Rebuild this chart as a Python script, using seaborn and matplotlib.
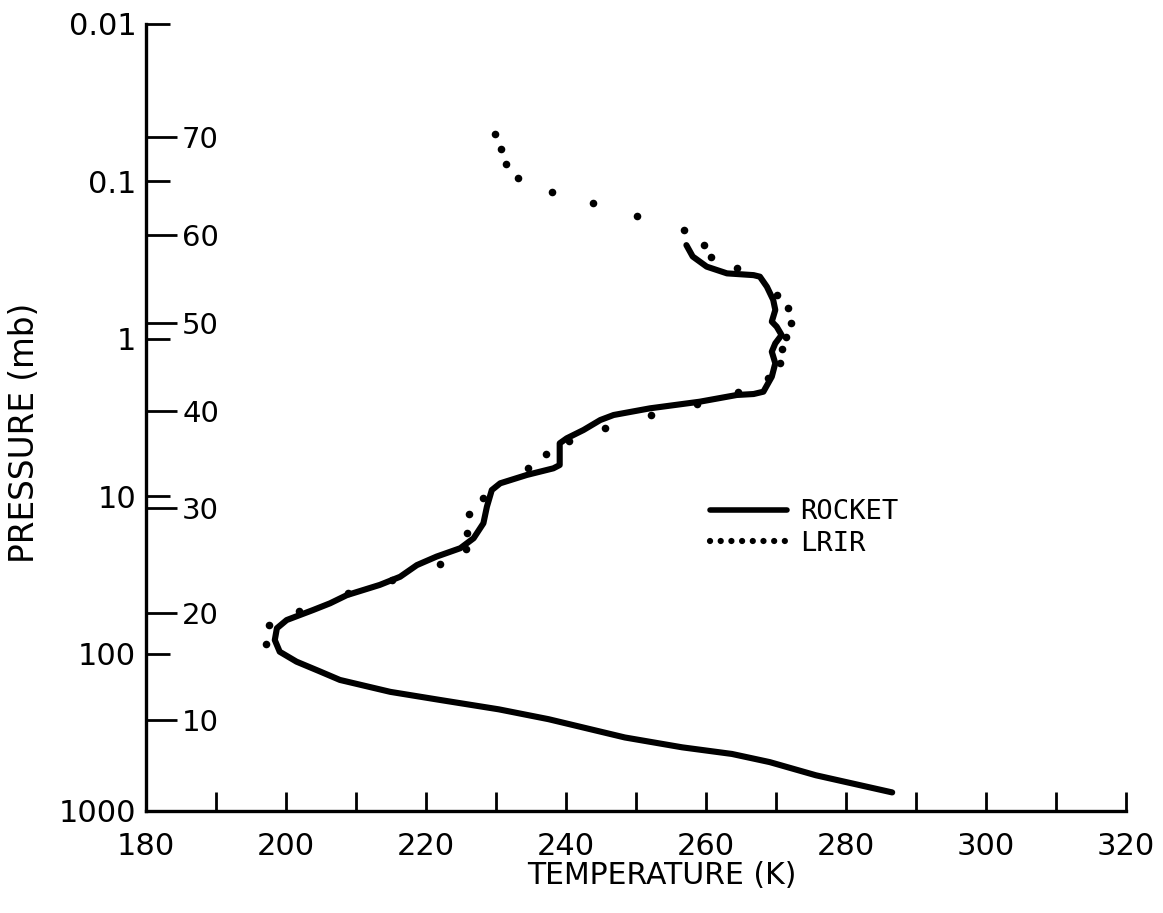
import numpy as np
import pandas as pd
import matplotlib
matplotlib.use("Agg")
import matplotlib.pyplot as plt
import seaborn as sns
from matplotlib.ticker import NullLocator
from matplotlib.lines import Line2D

# ---------------- data ----------------
rocket_temp = [257.2, 258.1, 260.1, 263.0, 266.8, 267.7, 268.7, 269.6, 269.9, 269.4,
               270.1, 270.8, 269.9, 269.4, 269.9, 269.4, 268.2, 266.8, 264.4, 259.1,
               252.0, 246.8, 244.9, 242.5, 240.1, 239.1, 239.1, 238.2, 234.4, 230.6,
               229.4, 228.7, 228.2, 226.8, 224.9, 221.5, 218.7, 216.3, 213.4, 208.7,
               206.3, 203.9, 200.1, 198.7, 198.4, 199.1, 201.5, 204.7, 207.7, 214.9,
               222.0, 230.4, 237.5, 248.4, 256.6, 263.7, 269.1, 275.7, 286.6]
rocket_pres = [0.254, 0.30, 0.348, 0.384, 0.394, 0.403, 0.467, 0.566, 0.656, 0.778,
               0.838, 0.946, 1.069, 1.208, 1.431, 1.741, 2.168, 2.243, 2.275, 2.51,
               2.765, 3.049, 3.281, 3.797, 4.289, 4.613, 6.34, 6.65, 7.33, 8.28,
               9.14, 11.67, 14.86, 18.5, 21.4, 24.2, 27.4, 32.5, 36.6, 42.5,
               47.9, 52.8, 61.2, 69.0, 82.0, 97.3, 112.5, 129.0, 147.0, 175.0,
               197.0, 226.0, 261.0, 341.0, 394.0, 434.0, 489.0, 593.0, 762.0]

lrir_temp = [229.9, 230.7, 231.4, 233.2, 238.0, 243.8, 250.2, 256.8, 259.7, 260.7,
             264.4, 270.2, 271.7, 272.1, 271.4, 270.9, 270.5, 268.9, 264.5, 258.7,
             252.1, 245.5, 240.4, 237.1, 234.6, 228.1, 226.2, 225.9, 225.7, 222.0,
             215.2, 208.9, 201.9, 197.6, 197.2]
lrir_pres = [0.050, 0.0625, 0.0774, 0.0946, 0.116, 0.138, 0.166, 0.204, 0.252, 0.303,
             0.356, 0.527, 0.640, 0.791, 0.971, 1.166, 1.431, 1.782, 2.168, 2.606,
             3.049, 3.67, 4.46, 5.42, 6.59, 10.2, 13.0, 17.1, 21.7, 27.1,
             34.1, 41.4, 53.4, 65.8, 87.3]

temp_ticks = [180, 200, 220, 240, 260, 280, 300, 320]
temp_minor = [190, 210, 230, 250, 270, 290, 310]
pres_ticks = [0.01, 0.1, 1, 10, 100, 1000]
pres_labels = ["0.01", "0.1", "1", "10", "100", "1000"]
# altitude scale (km) marked at the corresponding pressures (mb)
alt_pres = [0.0522, 0.2196, 0.7978, 2.871, 11.97, 55.29, 265.0]
alt_labels = ["70", "60", "50", "40", "30", "20", "10"]

series_names = ["ROCKET", "LRIR"]

# ---------------- figure ----------------
sns.set_theme(style="white")
plt.rcParams["font.family"] = ["DejaVu Sans"]

W, H = 1163, 913
fig = plt.figure(figsize=(W / 100, H / 100), dpi=100)
ax = fig.add_axes([146 / W, 1 - 811 / H, (1126 - 146) / W, (811 - 24) / H])

rocket_df = pd.DataFrame({"T": rocket_temp, "P": rocket_pres})
lrir_df = pd.DataFrame({"T": lrir_temp, "P": lrir_pres})

sns.lineplot(data=rocket_df, x="T", y="P", sort=False, estimator=None,
             color="black", lw=4.4, legend=False, ax=ax,
             solid_joinstyle="round", solid_capstyle="round")
sns.scatterplot(data=lrir_df, x="T", y="P", color="black", s=30,
                linewidth=0, legend=False, ax=ax)

ax.set_yscale("log")
ax.set_xlim(180, 320)
ax.set_ylim(1000, 0.01)
ax.set_xlabel("")
ax.set_ylabel("")

for s in ["top", "right"]:
    ax.spines[s].set_visible(False)
for s in ["left", "bottom"]:
    ax.spines[s].set_color("black")
    ax.spines[s].set_linewidth(2.4)

ax.set_xticks(temp_ticks)
ax.set_xticklabels([str(t) for t in temp_ticks])
ax.set_xticks(temp_minor, minor=True)
ax.tick_params(axis="x", which="both", bottom=True, top=False, direction="in",
               length=14, width=2, color="black", pad=15, labelsize=22,
               labelcolor="black")

ax.set_yticks(pres_ticks)
ax.set_yticklabels(pres_labels)
ax.yaxis.set_minor_locator(NullLocator())
ax.tick_params(axis="y", which="major", left=True, right=False, direction="in",
               length=17, width=2, color="black", pad=7, labelsize=22,
               labelcolor="black")
ax.tick_params(axis="y", which="minor", left=False, right=False)

# altitude (km) scale drawn on the same left axis line
ax2 = ax.twinx()
ax2.set_yscale("log")
ax2.set_ylim(1000, 0.01)
for s in ["top", "bottom", "left", "right"]:
    ax2.spines[s].set_visible(False)
ax2.spines["right"].set_position(("axes", 0))
ax2.set_yticks(alt_pres)
ax2.set_yticklabels(alt_labels)
ax2.yaxis.set_minor_locator(NullLocator())
ax2.tick_params(axis="y", which="major", left=False, right=True, labelleft=False,
                labelright=True, direction="out", length=22, width=2,
                color="black", pad=4, labelsize=21, labelcolor="black")
ax2.tick_params(axis="y", which="minor", left=False, right=False)
ax2.grid(False)
ax.grid(False)

fig.text(25 / W, 1 - 433 / H, "PRESSURE (mb)", rotation=90, ha="center",
         va="center", fontsize=23.5, color="black")
fig.text(662 / W, 1 - 875 / H, "TEMPERATURE (K)", ha="center", va="center",
         fontsize=21.5, color="black")

handles = [
    Line2D([], [], color="black", lw=4, solid_capstyle="round"),
    Line2D([], [], color="black", lw=4.5, linestyle=(0, (0.01, 1.7)),
           dash_capstyle="round"),
]
leg = ax.legend(handles, series_names, loc="center left",
                bbox_to_anchor=(710 / W, 1 - 528 / H), bbox_transform=fig.transFigure,
                frameon=False, borderpad=0, borderaxespad=0, handlelength=2.85,
                handletextpad=0.48, labelspacing=0.2,
                prop={"family": "DejaVu Sans Mono", "size": 19.5})
for t in leg.get_texts():
    t.set_color("black")

fig.savefig("out.png", dpi=100)
